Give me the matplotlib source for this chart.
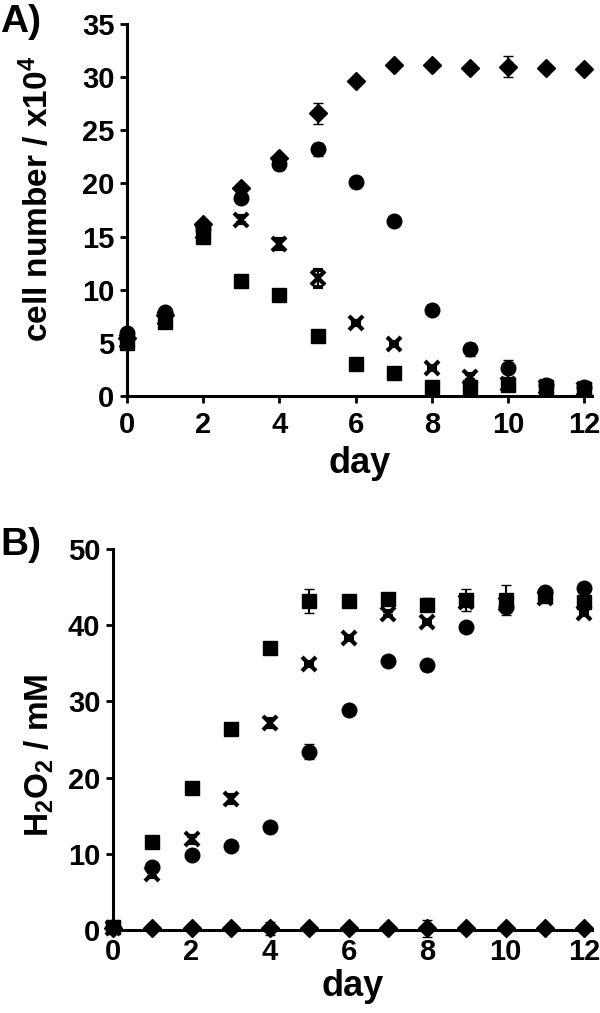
import matplotlib
matplotlib.use("Agg")
import matplotlib.pyplot as plt

plt.rcParams['font.family'] = ['Liberation Sans', 'DejaVu Sans']
plt.rcParams['font.weight'] = 'bold'
plt.rcParams['mathtext.fontset'] = 'custom'
plt.rcParams['mathtext.rm'] = 'Liberation Sans:bold'
plt.rcParams['mathtext.default'] = 'rm'

days = list(range(13))

# Panel A: cell number / x10^4
a_diamond = [5.5, 7.6, 16.2, 19.6, 22.4, 26.6, 29.6, 31.1, 31.1, 30.9, 31.0, 30.9, 30.8]
a_diamond_err = [0.3, 0.3, 0.3, 0.3, 0.3, 1.0, 0.3, 0.2, 0.2, 0.3, 1.0, 0.2, 0.2]
a_circle = [5.9, 7.9, 15.7, 18.6, 21.8, 23.2, 20.1, 16.5, 8.1, 4.4, 2.6, 1.0, 0.8]
a_circle_err = [0.3, 0.3, 0.3, 0.3, 0.5, 0.6, 0.2, 0.2, 0.2, 0.6, 0.8, 0.2, 0.2]
a_cross = [5.2, 7.3, 15.4, 16.6, 14.3, 11.1, 6.9, 4.9, 2.6, 1.8, 1.1, 0.8, 0.7]
a_cross_err = [0.3, 0.3, 0.3, 0.3, 0.5, 0.8, 0.2, 0.2, 0.2, 0.3, 0.2, 0.2, 0.2]
a_square = [5.0, 7.0, 15.0, 10.8, 9.5, 5.6, 3.0, 2.2, 0.85, 0.8, 1.0, 0.8, 0.7]
a_square_err = [0.3, 0.3, 0.3, 0.2, 0.6, 0.2, 0.2, 0.2, 0.2, 0.2, 0.2, 0.2, 0.2]

# Panel B: H2O2 / mM
b_diamond = [0.3, 0.2, 0.2, 0.2, 0.2, 0.2, 0.2, 0.2, 0.2, 0.2, 0.2, 0.2, 0.2]
b_diamond_err = [0.0, 0.0, 0.0, 0.0, 0.8, 0.0, 0.0, 0.0, 1.1, 0.0, 0.0, 0.0, 0.0]
b_circle = [0.4, 8.3, 9.8, 11.0, 13.5, 23.4, 28.9, 35.3, 34.8, 39.7, 42.4, 44.3, 44.9]
b_circle_err = [0.0, 0.3, 0.3, 0.3, 0.3, 1.0, 0.3, 0.3, 0.3, 0.3, 0.5, 0.3, 0.3]
b_cross = [0.3, 7.3, 11.9, 17.2, 27.2, 34.9, 38.3, 41.5, 40.4, 43.0, 42.8, 43.6, 41.6]
b_cross_err = [0.0, 0.3, 0.5, 0.5, 0.5, 0.3, 0.3, 0.3, 0.3, 0.3, 0.3, 0.3, 0.3]
b_square = [0.4, 11.6, 18.7, 26.4, 37.0, 43.2, 43.2, 43.4, 42.7, 43.3, 43.3, 43.8, 43.1]
b_square_err = [0.0, 0.3, 0.3, 0.3, 0.3, 1.6, 0.3, 0.3, 0.9, 1.5, 2.0, 0.5, 0.3]

W, H = 600, 1013
fig = plt.figure(figsize=(W / 100, H / 100), dpi=100)


def axes_px(left, top, right, bottom):
    return fig.add_axes([left / W, 1 - bottom / H, (right - left) / W, (bottom - top) / H])


styles = [
    ('D', 9.5, 0),
    ('o', 10.5, 0),
    ('x', 10.5, 3),
    ('s', 9.5, 0),
]


def draw(ax, series):
    for (vals, errs), (m, ms, mew) in zip(series, styles):
        ax.errorbar(days, vals, yerr=errs, fmt=m, color='black', ms=ms,
                    mew=mew if mew else 1, mec='black', mfc='black',
                    ecolor='black', elinewidth=1.5, capsize=3.5, capthick=1.5,
                    clip_on=False, zorder=3)


def style(ax, xticklen):
    for s in ('top', 'right'):
        ax.spines[s].set_visible(False)
    for s in ('left', 'bottom'):
        ax.spines[s].set_linewidth(2.2)
    ax.tick_params(axis='y', direction='out', length=5, width=2, labelsize=21, pad=4)
    ax.tick_params(axis='x', direction='out', length=xticklen, width=2, labelsize=21, pad=6)
    for lab in ax.get_xticklabels() + ax.get_yticklabels():
        lab.set_fontweight('bold')


# Panel A
axA = axes_px(127, 24, 592, 396)
draw(axA, [(a_diamond, a_diamond_err), (a_circle, a_circle_err),
           (a_cross, a_cross_err), (a_square, a_square_err)])
axA.set_xlim(0, 12.2)
axA.set_ylim(0, 35)
axA.set_xticks(range(0, 13, 2))
axA.set_yticks(range(0, 36, 5))
style(axA, 5)
axA.set_xlabel('day', fontsize=26, fontweight='bold', labelpad=5)
axA.set_ylabel('cell number / x10$^{4}$', fontsize=24, fontweight='bold')
axA.yaxis.set_label_coords(-0.155, 0.53)
fig.text(0.0, 1 - 22 / H, 'A)', fontsize=28, fontweight='bold',
         va='center', ha='left')

# Panel B
axB = axes_px(113, 549, 592, 930)
draw(axB, [(b_diamond, b_diamond_err), (b_circle, b_circle_err),
           (b_cross, b_cross_err), (b_square, b_square_err)])
axB.set_xlim(0, 12.2)
axB.set_ylim(0, 50)
axB.set_xticks(range(0, 13, 2))
axB.set_yticks(range(0, 51, 10))
style(axB, 0)
axB.set_xlabel('day', fontsize=26, fontweight='bold', labelpad=2)
axB.set_ylabel('H$_2$O$_2$ / mM', fontsize=24, fontweight='bold')
axB.yaxis.set_label_coords(-0.118, 0.46)
fig.text(0.0, 1 - 545 / H, 'B)', fontsize=28, fontweight='bold',
         va='center', ha='left')

fig.savefig('out.png', dpi=100)
